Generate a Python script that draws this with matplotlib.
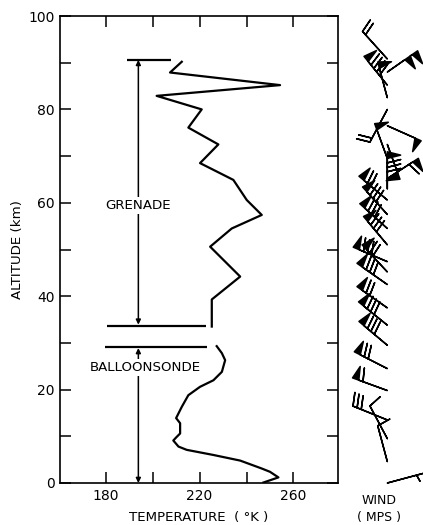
import matplotlib.pyplot as plt
import numpy as np

# temperature profile, grenade (upper) and balloonsonde (lower)
grenade_alt = [90.2, 87.9, 85.2, 82.9, 80.0, 76.1, 72.5, 68.5, 64.9, 60.6,
               57.4, 54.5, 50.6, 44.2, 39.3, 33.5]
grenade_temp = [212.4, 207.4, 254.3, 201.7, 220.9, 215.2, 228.0, 220.2, 234.4, 240.1,
                246.5, 233.7, 224.5, 237.3, 225.2, 225.2]

balloon_alt = [29.3, 27.8, 26.3, 23.8, 22.0, 20.6, 18.8, 16.3, 13.9, 12.8, 10.6,
               9.8, 9.1, 7.8, 7.1, 6.0, 4.8, 3.1, 2.4, 1.2, 0.1]
balloon_temp = [227.3, 229.5, 230.9, 229.5, 225.9, 220.2, 215.2, 212.4, 210.0, 211.7, 211.7,
                210.1, 208.8, 211.0, 214.5, 225.9, 237.3, 246.5, 250.0, 253.6, 247.2]

# range markers
grenade_top = 90.6
grenade_bottom = 33.6
balloon_top = 29.2

# winds: altitude (km), direction wind blows from (deg), speed (mps)
wind_alt = [0.0, 4.6, 9.5, 13.5, 19.8, 24.5, 29.5, 33.8, 37.5, 42.5, 45.2, 47.4,
            51.0, 54.5, 57.5, 60.6, 63.0, 65.2, 69.5, 72.5, 76.5, 80.0, 82.5,
            85.2, 88.0, 90.8]
wind_dir = [75, 345, 332, 292, 290, 297, 310, 309, 305, 305, 317, 293,
            320, 312, 318, 310, 0, 57, 340, 160, 114, 208, 345,
            321, 55, 318]
wind_speed = [5, 10, 10, 30, 60, 70, 80, 80, 70, 80, 70, 80,
              80, 80, 80, 70, 80, 60, 50, 50, 50, 20, 50,
              90, 100, 20]

W, H = 423, 525
fig = plt.figure(figsize=(W / 100, H / 100), dpi=100)
plt.rcParams['font.family'] = 'DejaVu Sans'

ax = fig.add_axes([60 / W, 42 / H, 278 / W, 467 / H])
ax.plot(grenade_temp, grenade_alt, color='k', lw=1.6)
ax.plot(balloon_temp, balloon_alt, color='k', lw=1.6)

ax.hlines(grenade_top, 189.2, 207.8, color='k', lw=1.6)
ax.hlines(grenade_bottom, 180.4, 222.6, color='k', lw=1.6)
ax.hlines(balloon_top, 179.7, 223.3, color='k', lw=1.6)

xa = 193.9
arrow = dict(arrowstyle='<|-|>', color='k', lw=1.1, mutation_scale=7,
             shrinkA=0, shrinkB=0)
ax.annotate('', xy=(xa, grenade_top), xytext=(xa, grenade_bottom + 0.3), arrowprops=arrow)
ax.annotate('', xy=(xa, balloon_top - 0.3), xytext=(xa, 0), arrowprops=arrow)

box = dict(facecolor='white', edgecolor='none', pad=1.5)
ax.text(xa, 59.4, 'GRENADE', ha='center', va='center', fontsize=9.6, bbox=box)
ax.text(196.8, 24.8, 'BALLOONSONDE', ha='center', va='center', fontsize=9.6, bbox=box)

ax.set_xlim(160.5, 279)
ax.set_ylim(0, 100)
ax.set_xticks([180, 200, 220, 240, 260])
ax.set_xticklabels(['180', '', '220', '', '260'])
ax.set_yticks(np.arange(0, 101, 10))
ax.set_yticklabels([str(t) if t % 20 == 0 else '' for t in range(0, 101, 10)])
ax.tick_params(direction='in', length=8, width=1.1, top=True, right=True,
               labelsize=10, pad=4)
for s in ax.spines.values():
    s.set_linewidth(1.2)
ax.set_xlabel('TEMPERATURE  ( °K )', fontsize=9.6, labelpad=6)
ax.set_ylabel('ALTITUDE (km)', fontsize=9.6, labelpad=3)

# wind column
axw = fig.add_axes([340 / W, 42 / H, 83 / W, 467 / H])
axw.set_xlim(0, 1)
axw.set_ylim(0, 100)
axw.axis('off')
rad = np.deg2rad(wind_dir)
spd = np.array(wind_speed, dtype=float)
u = -spd * np.sin(rad)
v = -spd * np.cos(rad)
axw.barbs(np.full(len(wind_alt), 0.57), wind_alt, u, v, length=7.3,
          barb_increments=dict(half=5, full=10, flag=50),
          sizes=dict(spacing=0.12, height=0.36, width=0.18),
          linewidth=1.1, color='k', clip_on=False)

fig.text(379 / W, 1 - 500 / H, 'WIND', ha='center', va='center', fontsize=9)
fig.text(379 / W, 1 - 517 / H, '( MPS )', ha='center', va='center', fontsize=9)

fig.savefig('out.png', dpi=100)
